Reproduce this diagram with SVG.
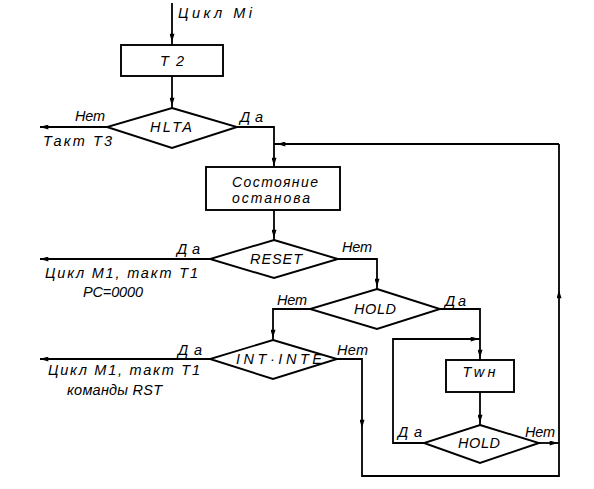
<svg xmlns="http://www.w3.org/2000/svg" width="594" height="489" viewBox="0 0 594 489">
<style>
.s{fill:#fff;stroke:#000;stroke-width:1.9}
.c{fill:none;stroke:#000;stroke-width:1.8}
.a{fill:none;stroke:none}
text{font-family:"Liberation Sans",Arial,sans-serif;font-style:italic;font-size:14.5px;fill:#000}
.m{text-anchor:middle}
.b{font-size:14px}
</style>
<defs>
<marker id="ah" viewBox="0 0 10 6" refX="10" refY="3" markerWidth="11" markerHeight="5" markerUnits="userSpaceOnUse" orient="auto">
<path d="M0,0 L10,3 L0,6 z" fill="#000"/>
</marker>
</defs>
<rect width="594" height="489" fill="#fff"/>
<g id="connectors">
<path class="c" d="M172 3 V45"/>
<path class="c" d="M172 76 V108"/>
<path class="c" d="M107 127 H40"/>
<path class="c" d="M237 127 H274 V167"/>
<path class="c" d="M559 144 H274"/>
<path class="c" d="M274 210 V240"/>
<path class="c" d="M210 259 H40"/>
<path class="c" d="M338 259 H377 V289"/>
<path class="c" d="M310 309 H273 V340"/>
<path class="c" d="M440 309 H480 V360"/>
<path class="c" d="M210 359 H40"/>
<path class="c" d="M337 359 H362 V476 H559 V144"/>
<path class="c" d="M480 392 V425"/>
<path class="c" d="M424 443 H393 V339 H480"/>
<path class="c" d="M539 443 H559"/>
<path class="a" d="M172 28 L172 42" marker-end="url(#ah)"/>
<path class="a" d="M172 92 L172 106" marker-end="url(#ah)"/>
<path class="a" d="M60 127 L40 127" marker-end="url(#ah)"/>
<path class="a" d="M300 144 L277 144" marker-end="url(#ah)"/>
<path class="a" d="M274 150 L274 166" marker-end="url(#ah)"/>
<path class="a" d="M274 222 L274 238" marker-end="url(#ah)"/>
<path class="a" d="M60 259 L40 259" marker-end="url(#ah)"/>
<path class="a" d="M377 272 L377 287" marker-end="url(#ah)"/>
<path class="a" d="M273 322 L273 338" marker-end="url(#ah)"/>
<path class="a" d="M460 339 L479 339" marker-end="url(#ah)"/>
<path class="a" d="M480 342 L480 358" marker-end="url(#ah)"/>
<path class="a" d="M480 408 L480 423" marker-end="url(#ah)"/>
<path class="a" d="M540 443 L558 443" marker-end="url(#ah)"/>
<path class="a" d="M559 310 L559 290" marker-end="url(#ah)"/>
<path class="a" d="M362 410 L362 428" marker-end="url(#ah)"/>
<path class="a" d="M60 359 L40 359" marker-end="url(#ah)"/>
</g>
<g id="n_t2">
<rect class="s" x="121" y="45" width="102" height="31"/>
<text class="m" x="172" y="66" textLength="24" lengthAdjust="spacing">T2</text>
</g>
<g id="n_hlta">
<path class="s" d="M172 108 L237 127 L172 148 L107 127 Z"/>
<text class="m" x="171" y="132" textLength="42" lengthAdjust="spacing">HLTA</text>
</g>
<g id="n_halt">
<rect class="s" x="206" y="167" width="134" height="43"/>
<text class="m b" x="275" y="187" textLength="86" lengthAdjust="spacing">Состояние</text>
<text class="m b" x="271" y="203" textLength="78" lengthAdjust="spacing">останова</text>
</g>
<g id="n_reset">
<path class="s" d="M274 240 L338 259 L274 278 L210 259 Z"/>
<text class="m" x="276" y="264" textLength="52" lengthAdjust="spacing">RESET</text>
</g>
<g id="n_hold1">
<path class="s" d="M377 289 L440 309 L377 329 L310 309 Z"/>
<text class="m" x="375" y="314" textLength="42" lengthAdjust="spacing">HOLD</text>
</g>
<g id="n_int">
<path class="s" d="M273 340 L337 359 L273 379 L210 359 Z"/>
<text class="m" x="279" y="364" textLength="86" lengthAdjust="spacing">INT·INTE</text>
</g>
<g id="n_twh">
<rect class="s" x="446" y="360" width="68" height="32"/>
<text class="m" x="479" y="377" textLength="33" lengthAdjust="spacing">Twн</text>
</g>
<g id="n_hold2">
<path class="s" d="M480 425 L539 443 L480 463 L424 443 Z"/>
<text class="m" x="479" y="448" textLength="42" lengthAdjust="spacing">HOLD</text>
</g>
<g id="labels">
<text x="178" y="18" textLength="74" lengthAdjust="spacing">Цикл Mi</text>
<text x="75" y="121" textLength="30" lengthAdjust="spacing">Нет</text>
<text x="43" y="146" textLength="69" lengthAdjust="spacing">Такт Т3</text>
<text x="240" y="122" textLength="23" lengthAdjust="spacing">Да</text>
<text x="177" y="254" textLength="23" lengthAdjust="spacing">Да</text>
<text x="342" y="252" textLength="30" lengthAdjust="spacing">Нет</text>
<text x="45" y="278" textLength="153" lengthAdjust="spacing">Цикл М1, такт Т1</text>
<text x="83" y="297" textLength="60" lengthAdjust="spacing">PC=0000</text>
<text x="277" y="305" textLength="30" lengthAdjust="spacing">Нет</text>
<text x="445" y="306" textLength="21" lengthAdjust="spacing">Да</text>
<text x="178" y="355" textLength="24" lengthAdjust="spacing">Да</text>
<text x="337" y="355" textLength="31" lengthAdjust="spacing">Нет</text>
<text x="48" y="375" textLength="152" lengthAdjust="spacing">Цикл М1, такт Т1</text>
<text x="67" y="395" textLength="95" lengthAdjust="spacing">команды RST</text>
<text x="398" y="437" textLength="24" lengthAdjust="spacing">Да</text>
<text x="525" y="437" textLength="30" lengthAdjust="spacing">Нет</text>
</g>
</svg>
